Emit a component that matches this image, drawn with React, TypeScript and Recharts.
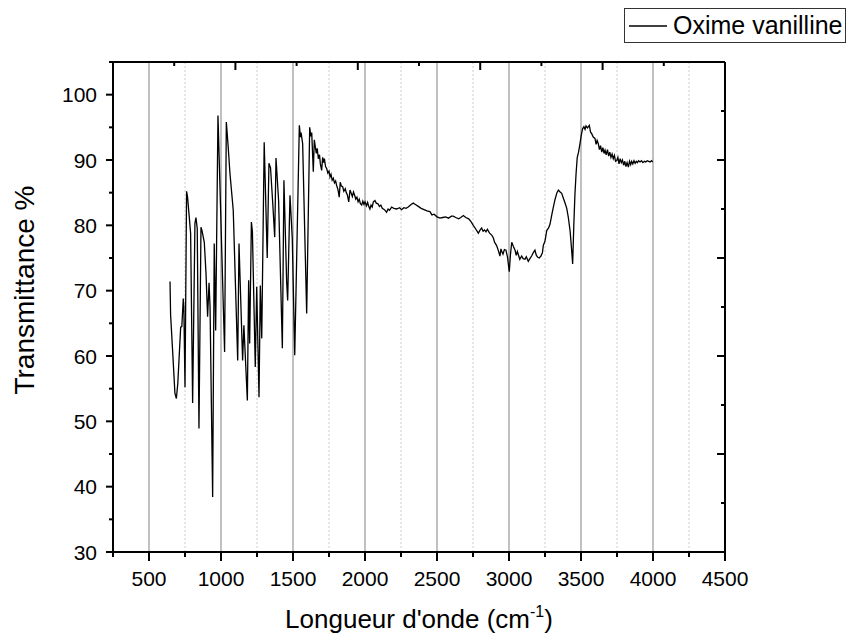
import React from 'react';
import { LineChart, Line, XAxis, YAxis, ReferenceLine } from 'recharts';

const FONT = '"Liberation Sans", Arial, sans-serif';
const SERIES_NAME = 'Oxime vanilline';

// wavenumber (cm-1) / transmittance (%)
const wavenumbers = [
  646, 650, 665, 680, 690, 700, 720, 728, 738, 742, 750, 761, 768, 789, 803, 819, 826, 835, 847, 861,
  868, 884, 896, 907, 917, 924, 942, 953, 963, 979, 1025, 1037, 1050, 1062, 1085, 1116, 1125, 1150, 1159, 1170,
  1183, 1192, 1199, 1211, 1218, 1238, 1248, 1264, 1273, 1283, 1300, 1321, 1333, 1344, 1359, 1373, 1382, 1400, 1426, 1437,
  1456, 1463, 1479, 1495, 1512, 1544, 1552, 1556, 1567, 1595, 1616, 1624, 1630, 1641, 1648, 1655, 1662, 1668, 1676, 1684,
  1690, 1699, 1706, 1712, 1718, 1726, 1734, 1742, 1750, 1757, 1764, 1772, 1780, 1788, 1796, 1803, 1812, 1821, 1828, 1836,
  1845, 1853, 1863, 1870, 1877, 1887, 1896, 1904, 1912, 1920, 1928, 1936, 1944, 1952, 1960, 1968, 1977, 1985, 1993, 2000,
  2010, 2018, 2026, 2034, 2042, 2050, 2058, 2069, 2078, 2090, 2100, 2110, 2120, 2135, 2150, 2160, 2170, 2185, 2200, 2220,
  2240, 2254, 2270, 2285, 2300, 2320, 2335, 2350, 2370, 2390, 2410, 2430, 2451, 2465, 2480, 2500, 2521, 2540, 2560, 2580,
  2600, 2613, 2630, 2650, 2665, 2683, 2700, 2720, 2735, 2752, 2770, 2787, 2800, 2810, 2820, 2830, 2840, 2850, 2865, 2880,
  2891, 2900, 2914, 2925, 2937, 2944, 2950, 2958, 2968, 2979, 2990, 3002, 3010, 3019, 3030, 3042, 3050, 3058, 3065, 3075,
  3088, 3098, 3111, 3120, 3134, 3145, 3157, 3168, 3180, 3190, 3200, 3210, 3222, 3232, 3238, 3250, 3262, 3275, 3285, 3297,
  3308, 3320, 3333, 3343, 3355, 3366, 3380, 3391, 3401, 3412, 3424, 3434, 3442, 3450, 3458, 3466, 3474, 3483, 3493, 3502,
  3511, 3520, 3528, 3535, 3545, 3558, 3566, 3575, 3585, 3597, 3605, 3612, 3620, 3628, 3636, 3644, 3652, 3660, 3667, 3675,
  3684, 3692, 3700, 3708, 3716, 3724, 3732, 3740, 3748, 3756, 3764, 3772, 3780, 3788, 3796, 3804, 3812, 3820, 3829, 3837,
  3845, 3852, 3860, 3868, 3876, 3884, 3892, 3900, 3910, 3920, 3930, 3940, 3950, 3960, 3970, 3980, 3990, 3998,
];

const transmittance = [
  71.4, 66.3, 60.4, 54.3, 53.5, 55.8, 64.4, 64.5, 68.8, 67.5, 55.2, 85.2, 84.3, 78.8, 52.8, 80.3, 81.2, 79.5, 48.9, 79.7,
  79.2, 77.4, 72.6, 66.0, 71.2, 67.5, 38.4, 77.2, 63.9, 96.8, 60.6, 95.8, 92.0, 88.0, 82.3, 59.3, 77.2, 59.3, 64.7, 59.4,
  53.2, 71.6, 61.9, 80.5, 79.1, 58.3, 70.6, 53.7, 70.8, 62.7, 92.7, 75.0, 89.5, 88.8, 83.5, 78.2, 90.3, 83.8, 61.2, 86.9,
  71.3, 68.5, 84.6, 78.0, 60.1, 95.3, 93.5, 94.2, 92.5, 66.5, 95.0, 93.6, 94.2, 88.2, 93.1, 92.0, 91.0, 91.8, 90.2, 90.8,
  89.4, 88.4, 90.4, 89.6, 90.2, 89.0, 88.7, 88.0, 88.3, 87.4, 87.8, 86.9, 87.2, 86.5, 86.8, 86.1, 85.5, 84.3, 86.6, 86.0,
  85.9, 85.2, 85.6, 85.0, 84.7, 83.6, 85.4, 84.9, 84.4, 85.1, 84.6, 84.0, 84.3, 83.6, 84.0, 83.3, 83.1, 83.7, 83.2, 83.6,
  83.0, 83.5, 82.9, 82.5, 83.1, 82.8, 83.6, 83.8, 83.4, 83.3, 82.9, 83.1, 82.6, 82.4, 82.0, 82.5, 82.3, 82.8, 82.6, 82.5,
  82.7, 82.4, 82.7, 82.6, 82.8, 83.2, 83.4, 83.2, 82.9, 82.6, 82.4, 82.2, 82.1, 81.6, 81.7, 81.3, 81.1, 81.2, 81.3, 81.1,
  81.4, 81.4, 81.2, 81.0, 81.2, 81.5, 81.2, 81.0, 80.6, 80.0, 79.4, 78.8, 79.3, 79.6, 79.1, 79.3, 79.0, 79.4, 78.8, 78.5,
  78.1, 77.4, 76.9, 76.2, 75.3, 76.4, 76.0, 75.6, 76.3, 76.2, 75.1, 72.9, 75.5, 77.4, 76.8, 76.2, 75.4, 76.0, 75.5, 74.8,
  75.3, 74.9, 74.8, 75.2, 74.5, 74.9, 75.3, 75.8, 76.2, 75.4, 75.1, 75.0, 75.3, 75.8, 76.9, 77.6, 79.2, 79.6, 80.2, 81.6,
  82.8, 84.0, 85.0, 85.4, 85.1, 84.9, 84.0, 83.3, 82.6, 81.2, 79.2, 76.5, 74.1, 80.0, 84.8, 88.0, 90.4, 91.2, 92.5, 93.8,
  94.8, 95.1, 94.7, 95.2, 94.9, 95.3, 94.3, 94.0, 93.5, 93.3, 92.4, 93.0, 92.5, 91.6, 92.2, 91.2, 91.9, 91.0, 91.5, 90.8,
  91.6, 90.6, 91.2, 90.4, 90.9, 90.2, 90.7, 89.8, 89.9, 90.4, 89.4, 90.2, 89.6, 90.0, 89.2, 89.8, 89.0, 89.6, 88.9, 89.8,
  89.3, 89.8, 89.4, 89.9, 89.5, 89.8, 89.6, 89.9, 89.7, 89.9, 89.6, 89.8, 89.7, 89.9, 89.8, 89.7, 89.9, 89.7,
];

const xTicks = [250, 500, 750, 1000, 1250, 1500, 1750, 2000, 2250, 2500, 2750, 3000, 3250, 3500, 3750, 4000, 4250, 4500];
const xMajorGrid = [500, 1000, 1500, 2000, 2500, 3000, 3500, 4000];
const xMinorGrid = [750, 1250, 1750, 2250, 2750, 3250, 3750, 4250];
const yTicks = [30, 35, 40, 45, 50, 55, 60, 65, 70, 75, 80, 85, 90, 95, 100, 105];
// the top and right frame edges carry 10 unlabelled divisions each
const topTicks = [250, 675, 1100, 1525, 1950, 2375, 2800, 3225, 3650, 4075, 4500];
const rightTicks = [0, 1, 2, 3, 4, 5, 6, 7, 8, 9, 10];

const data = wavenumbers.map((w, i) => ({ w, t: transmittance[i] }));

const BottomTick = (props: any) => {
  const { x, y, payload } = props;
  const major = payload.value % 500 === 0;
  return (
    <g>
      <line x1={x} y1={y} x2={x} y2={y + (major ? 9 : 5)} stroke="#000" strokeWidth={2} />
      {major && (
        <text x={x} y={y + 34} textAnchor="middle" fontSize={21} fontFamily={FONT} fill="#000">
          {payload.value}
        </text>
      )}
    </g>
  );
};

const LeftTick = (props: any) => {
  const { x, y, payload } = props;
  const major = payload.value % 10 === 0;
  return (
    <g>
      <line x1={x} y1={y} x2={x - (major ? 7 : 4)} y2={y} stroke="#000" strokeWidth={2} />
      {major && (
        <text x={x - 16} y={y + 7.5} textAnchor="end" fontSize={21} fontFamily={FONT} fill="#000">
          {payload.value}
        </text>
      )}
    </g>
  );
};

// frame ticks on the top and right sides point inward
const TopTick = (props: any) => {
  const { x, y, index } = props;
  const len = index % 2 === 0 ? 8 : 4;
  return <line x1={x} y1={y} x2={x} y2={y + len} stroke="#000" strokeWidth={2} />;
};

const RightTick = (props: any) => {
  const { x, y, payload } = props;
  const len = payload.value % 2 === 0 ? 8 : 4;
  return <line x1={x} y1={y} x2={x - len} y2={y} stroke="#000" strokeWidth={2} />;
};

const renderXTitle = (props: any) => {
  const { viewBox } = props;
  const cx = viewBox.x + viewBox.width / 2;
  return (
    <text x={cx} y={viewBox.y + 76} textAnchor="middle" fontSize={26} fontFamily={FONT} fill="#000">
      Longueur d'onde (cm
      <tspan fontSize={16} dy={-11}>-1</tspan>
      <tspan dy={11}>)</tspan>
    </text>
  );
};

const renderYTitle = (props: any) => {
  const { viewBox } = props;
  const cx = viewBox.x + 24;
  const cy = viewBox.y + 228;
  return (
    <text
      x={cx}
      y={cy}
      transform={`rotate(-90, ${cx}, ${cy})`}
      textAnchor="middle"
      dominantBaseline="central"
      fontSize={28}
      fontFamily={FONT}
      fill="#000"
    >
      Transmittance %
    </text>
  );
};

export default function App() {
  return (
    <div style={{ position: 'absolute', left: 0, top: 0, width: 846, height: 641, background: '#fff' }}>
      <LineChart width={846} height={641} data={data} margin={{ top: 61, right: 120, bottom: 0, left: 0 }}>
        <XAxis
          dataKey="w"
          type="number"
          domain={[250, 4500]}
          ticks={xTicks}
          interval={0}
          height={89}
          tickSize={0}
          tickMargin={0}
          tickLine={false}
          tick={<BottomTick />}
          axisLine={{ stroke: '#000', strokeWidth: 2 }}
          allowDataOverflow
          label={renderXTitle}
        />
        <XAxis
          xAxisId="top"
          orientation="top"
          dataKey="w"
          type="number"
          domain={[250, 4500]}
          ticks={topTicks}
          interval={0}
          height={1}
          tickSize={0}
          tickMargin={0}
          tickLine={false}
          tick={<TopTick />}
          axisLine={{ stroke: '#000', strokeWidth: 2 }}
          allowDataOverflow
        />
        <YAxis
          type="number"
          domain={[30, 105]}
          ticks={yTicks}
          interval={0}
          width={113}
          tickSize={0}
          tickMargin={0}
          tickLine={false}
          tick={<LeftTick />}
          axisLine={{ stroke: '#000', strokeWidth: 2 }}
          allowDataOverflow
          label={renderYTitle}
        />
        <YAxis
          yAxisId="right"
          orientation="right"
          type="number"
          domain={[0, 10]}
          ticks={rightTicks}
          interval={0}
          width={1}
          tickSize={0}
          tickMargin={0}
          tickLine={false}
          tick={<RightTick />}
          axisLine={{ stroke: '#000', strokeWidth: 2 }}
          allowDataOverflow
        />
        {xMajorGrid.map((v) => (
          <ReferenceLine key={`M${v}`} x={v} stroke="#ababab" strokeWidth={1.5} />
        ))}
        {xMinorGrid.map((v) => (
          <ReferenceLine key={`m${v}`} x={v} stroke="#cccccc" strokeWidth={1} strokeDasharray="2 2" />
        ))}
        <ReferenceLine y={105} stroke="#000" strokeWidth={2} />
        <ReferenceLine x={4500} stroke="#000" strokeWidth={2} />
        <Line
          type="linear"
          dataKey="t"
          name={SERIES_NAME}
          stroke="#000"
          strokeWidth={1.3}
          dot={false}
          isAnimationActive={false}
        />
      </LineChart>
      <div
        style={{
          position: 'absolute',
          left: 624,
          top: 8,
          width: 220,
          height: 33,
          border: '1px solid #333',
          display: 'flex',
          alignItems: 'center',
          fontFamily: FONT,
          fontSize: 25,
          color: '#000',
          whiteSpace: 'nowrap',
        }}
      >
        <svg width={40} height={10} style={{ marginLeft: 4 }}>
          <line x1={0} y1={5} x2={38} y2={5} stroke="#000" strokeWidth={1.3} />
        </svg>
        <span style={{ marginLeft: 4 }}>{SERIES_NAME}</span>
      </div>
    </div>
  );
}
